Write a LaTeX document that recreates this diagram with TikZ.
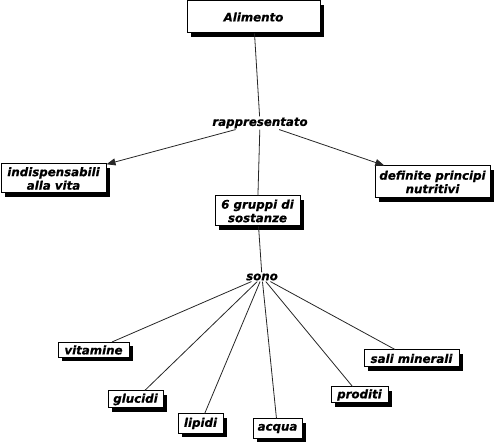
\documentclass[tikz,border=0pt]{standalone}
\usepackage{fontspec}
\setmainfont{DejaVu Sans}[BoldItalicFeatures={FakeBold=0.6}]
\usetikzlibrary{arrows.meta,shadows}
\tikzset{
  lbl/.style={font=\fontsize{11.8}{13.5}\selectfont\bfseries\itshape, inner sep=1pt, align=center},
  cbox/.style={lbl, draw=black, line width=1pt, fill=white, inner sep=0pt,
    drop shadow={shadow xshift=4pt, shadow yshift=-4pt, fill=black, opacity=1}},
  conn/.style={draw=black!85, line width=0.8pt},
  arr/.style={conn, -{Triangle[length=9pt,width=7pt]}}
}
\begin{document}
\begin{tikzpicture}[x=1pt,y=-1pt]
\useasboundingbox (0,0) rectangle (498,443);
\node[cbox, minimum width=133pt, minimum height=32pt] (alim) at (253.5,17) {Alimento};
\node[lbl] (rapp) at (260,123) {rappresentato};
\node[cbox, minimum width=105pt, minimum height=29pt] (ind) at (53.5,178.5) {indispensabili\\alla vita};
\node[cbox, minimum width=115pt, minimum height=32pt] (def) at (432.5,182) {definite principi\\nutritivi};
\node[cbox, minimum width=85pt, minimum height=30pt] (grp) at (257.5,211) {6 gruppi di\\sostanze};
\node[lbl] (sono) at (262,277) {sono};
\node[cbox, minimum width=71pt, minimum height=15pt] (vit) at (93.5,350) {vitamine};
\node[cbox, minimum width=55pt, minimum height=17pt] (glu) at (135.5,399.5) {glucidi};
\node[cbox, minimum width=45pt, minimum height=19pt] (lip) at (200.5,423.5) {lipidi};
\node[cbox, minimum width=49pt, minimum height=19pt] (acq) at (277.5,428.5) {acqua};
\node[cbox, minimum width=57pt, minimum height=16pt] (pro) at (359.5,395) {proditi};
\node[cbox, minimum width=95pt, minimum height=17pt] (sal) at (411.5,358.5) {sali minerali};
\draw[conn] (alim) -- (rapp);
\draw[arr] (rapp) -- (ind);
\draw[arr] (rapp) -- (def);
\draw[conn] (rapp) -- (grp);
\draw[conn] (grp) -- (sono);
\foreach \t in {vit,glu,lip,acq,pro,sal}
  \draw[conn] (sono) -- (\t);
\end{tikzpicture}
\end{document}
